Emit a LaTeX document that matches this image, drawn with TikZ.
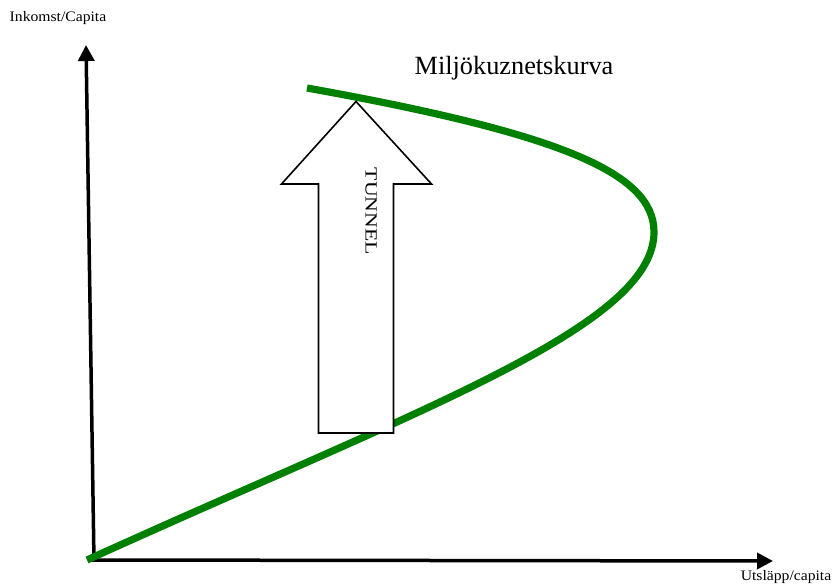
\documentclass[tikz,border=0pt]{standalone}
\usepackage{fontspec}
\setmainfont{Liberation Serif}
\usetikzlibrary{arrows.meta}
\definecolor{curvegreen}{RGB}{0,128,0}
\tikzset{
  axis/.style={line width=3.5pt, -{Triangle[length=16pt,width=16pt]}},
  kurva/.style={line width=7.2pt, curvegreen},
  tunnelbox/.style={draw=black, line width=1.6pt, fill=white, line join=miter},
  lbl/.style={inner sep=0pt, text=black}
}
\begin{document}
\begin{tikzpicture}[x=1pt,y=-1pt]
\useasboundingbox (0,0) rectangle (835,585);
% axes
\coordinate (origin) at (94,561);
\coordinate (ytop) at (86,45);
\coordinate (xorig) at (92,560);
\coordinate (xend) at (773,561);
\draw[axis] (origin) -- (ytop);
\draw[axis] (xorig) -- (xend);
% labels
\node[lbl, font=\fontsize{14.5}{16}\selectfont] (ylabel) at (58,18) {\scalebox{1.08}[1]{Inkomst/Capita}};
\node[lbl, font=\fontsize{14.5}{16}\selectfont] (xlabel) at (786,577) {\scalebox{1.08}[1]{Utsläpp/capita}};
% curve
\coordinate (cstart) at (307,88);
\coordinate (cright) at (654,232);
\coordinate (cend) at (87,560);
\draw[kurva] (cstart) .. controls (557,133) and (654,172) .. (cright)
  .. controls (654,327) and (417,410) .. (cend);
% tunnel arrow
\draw[tunnelbox] (356,101.5) -- (431.5,184) -- (393.5,184) -- (393.5,433)
  -- (318.5,433) -- (318.5,184) -- (281.5,184) -- cycle;
\node[lbl, rotate=-90, font=\fontsize{17}{19}\selectfont] (tunnel) at (371,211.5) {\scalebox{1.28}[1]{TUNNEL}};
\node[lbl, font=\fontsize{26.3}{29}\selectfont] (title) at (514,68) {Miljökuznetskurva};
\end{tikzpicture}
\end{document}
